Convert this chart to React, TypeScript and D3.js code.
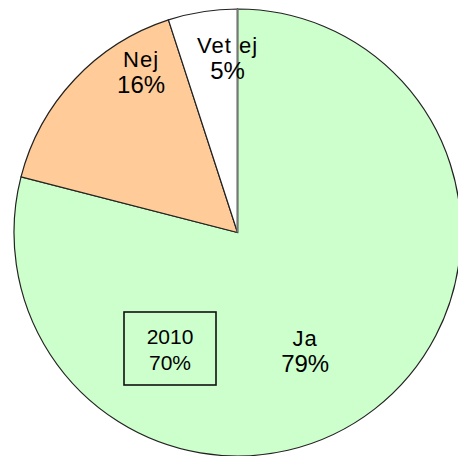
import React from "react";
import * as d3 from "d3";

const categories = ["Ja", "Nej", "Vet ej"];
const values = [79, 16, 5];
const percentLabels = ["79%", "16%", "5%"];
const colors = ["#CCFFCC", "#FFCC99", "#FFFFFF"];
const boxLines = ["2010", "70%"];

const W = 458;
const H = 456;
const cx = 237.5;
const cy = 232.5;
const R = 223.5;

// label placement relative to slice mid-angle (fraction of radius, degree offset)
const labelRadius = [0.6, 0.85, 0.795];
const labelAngleOffset = [7.5, 16.3, 5.8];

export default function App() {
  const pie = d3.pie<number>().sort(null).value((d) => d);
  const arcs = pie(values);
  const arc = d3.arc<d3.PieArcDatum<number>>().innerRadius(0).outerRadius(R);

  const labelPos = (i: number) => {
    const a = arcs[i];
    const mid = (a.startAngle + a.endAngle) / 2 + (labelAngleOffset[i] * Math.PI) / 180;
    const r = R * labelRadius[i];
    return [Math.sin(mid) * r, -Math.cos(mid) * r];
  };

  const font = "'Liberation Sans', Arial, sans-serif";

  return (
    <svg
      width={W}
      height={H}
      style={{ position: "absolute", left: 0, top: 0, background: "#fff" }}
    >
      <g transform={`translate(${cx},${cy})`}>
        {arcs.map((a, i) => (
          <path
            key={categories[i]}
            d={arc(a) || ""}
            fill={colors[i]}
            stroke="#222"
            strokeWidth={1.2}
          />
        ))}
        <line x1={0} y1={0} x2={0} y2={-R} stroke="#777" strokeWidth={2} />
        {arcs.map((a, i) => {
          const [x, y] = labelPos(i);
          return (
            <text
              key={"l" + i}
              x={x}
              y={y}
              textAnchor="middle"
              fontFamily={font}
              fill="#000"
            >
              <tspan x={x} dy={-2} fontSize={22} letterSpacing={1}>
                {categories[i]}
              </tspan>
              <tspan x={x} dy={26} fontSize={24}>
                {percentLabels[i]}
              </tspan>
            </text>
          );
        })}
      </g>
      <rect
        x={124}
        y={312}
        width={92}
        height={73}
        fill="none"
        stroke="#111"
        strokeWidth={1.6}
      />
      <text x={170} y={343.5} textAnchor="middle" fontFamily={font} fontSize={21}>
        <tspan x={170}>{boxLines[0]}</tspan>
        <tspan x={170} dy={26}>
          {boxLines[1]}
        </tspan>
      </text>
    </svg>
  );
}
